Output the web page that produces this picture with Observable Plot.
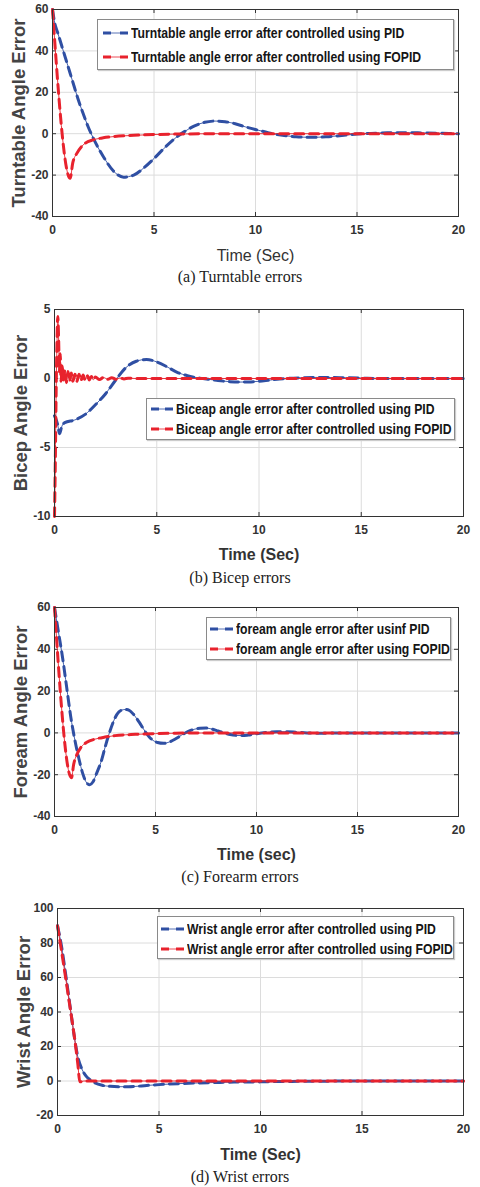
<!DOCTYPE html>
<html>
<head>
<meta charset="utf-8">
<script src="https://cdn.jsdelivr.net/npm/d3@7"></script>
<script src="https://cdn.jsdelivr.net/npm/@observablehq/plot@0.6"></script>
<style>
  body { margin: 0; background: #fff; }
  #wrap { position: relative; width: 480px; height: 1187px; overflow: hidden; background: #fff; }
  .panel { position: absolute; left: 0; }
  .caption { position: absolute; left: 0; width: 480px; text-align: center; font-family: "Liberation Serif", "Times New Roman", serif; font-size: 16px; color: #222; height: 20px; line-height: 20px; }
  .legend { position: absolute; background: #fff; border: 1px solid #8a8a8a; box-shadow: 1px 1px 1px #ccc; box-sizing: border-box; }
  .legrow { position: absolute; left: 0; display: flex; align-items: center; height: 18px; }
  .legrow span { display: inline-block; font-family: "Liberation Sans", Arial, sans-serif; font-weight: bold; font-size: 14px; color: #151515; white-space: nowrap; transform: scaleX(0.87); transform-origin: left center; }
</style>
</head>
<body>
<div id="wrap"></div>
<script>
// ---------- shared ----------
const xTicks = [0, 5, 10, 15, 20];
const pidColor = "#2f4fa3";
const fopidColor = "#e8222d";

// ---------- (a) Turntable ----------
const turntableYTicks = [-40, -20, 0, 20, 40, 60];
const turntablePidT = [0, 0.12, 0.25, 0.5, 0.75, 1, 1.25, 1.5, 1.75, 2, 2.5, 3, 3.5, 4, 4.5, 5, 5.5, 6, 6.5, 7, 7.5, 8, 8.5, 9, 9.5, 10, 10.5, 11, 11.5, 12, 12.5, 13, 13.5, 14, 14.5, 15, 15.5, 16, 16.5, 17, 18, 19, 20];
const turntablePid  = [60, 53, 49, 41, 33, 25, 17, 10, 3.5, -2, -11, -18, -21, -20, -16.5, -12, -7, -2.5, 1, 3.8, 5.5, 6.1, 5.8, 4.8, 3.3, 2, 0.8, -0.3, -1, -1.5, -1.7, -1.7, -1.5, -1.1, -0.6, -0.2, 0.1, 0.3, 0.45, 0.5, 0.4, 0.2, 0];
const turntableFopidT = [0, 0.87, 1.0, 1.2, 1.5, 2, 2.5, 3, 4, 5, 6, 8, 20];
const turntableFopid  = [60, -21.5, -14, -9.5, -5.5, -3, -2, -1.4, -0.8, -0.4, -0.2, 0, 0];

// ---------- (b) Bicep ----------
const bicepYTicks = [-10, -5, 0, 5];
const bicepPidT = [0, 0.15, 0.25, 0.35, 0.5, 1, 1.5, 2, 2.5, 3, 3.5, 4, 4.5, 5, 5.5, 6, 6.5, 7, 7.5, 8, 8.5, 9, 9.5, 10, 10.5, 11, 12, 13, 14, 15, 16, 20];
const bicepPid  = [-2.7, -3.3, -4, -3.5, -3.2, -3.0, -2.6, -1.9, -1.1, -0.1, 0.8, 1.25, 1.38, 1.2, 0.85, 0.45, 0.2, 0.05, -0.05, -0.15, -0.22, -0.26, -0.25, -0.2, -0.12, -0.04, 0.05, 0.08, 0.06, 0.03, 0, 0];
const bicepFopidT = [0, 0.04, 0.08, 0.12, 0.16, 0.2, 0.24, 0.28, 0.32, 0.38, 0.44, 0.5, 0.58, 0.66, 0.74, 0.82, 0.9, 1.0, 1.1, 1.2, 1.3, 1.4, 1.5, 1.6, 1.7, 1.8, 1.9, 2.0, 2.2, 2.4, 2.6, 2.8, 3.0, 3.2, 3.4, 3.6, 4.0, 20];
const bicepFopid  = [-10, -6, -1, 2.5, 4.5, 3, 0.5, 1.8, -0.2, 0.9, -0.1, 0.6, -0.3, 0.5, -0.2, 0.4, -0.2, 0.3, -0.2, 0.3, -0.15, 0.25, -0.1, 0.2, -0.1, 0.15, -0.1, 0.1, -0.08, 0.08, -0.06, 0.06, -0.05, 0.04, -0.03, 0.02, 0, 0];

// ---------- (c) Forearm ----------
const forearmYTicks = [-40, -20, 0, 20, 40, 60];
const forearmPidT = [0, 0.2, 0.4, 0.6, 0.8, 1.0, 1.2, 1.4, 1.6, 1.75, 1.9, 2.1, 2.3, 2.5, 2.7, 2.9, 3.1, 3.3, 3.5, 3.7, 3.9, 4.2, 4.5, 4.8, 5.1, 5.4, 5.7, 6.0, 6.3, 6.6, 6.9, 7.2, 7.5, 7.8, 8.1, 8.4, 8.7, 9.0, 9.3, 9.6, 10, 10.5, 11, 11.5, 12, 12.5, 13, 14, 20];
const forearmPid  = [60, 48, 36, 22, 8, -3, -12, -19.5, -24, -24.8, -23.5, -19, -14, -7, -0.5, 5, 9, 10.8, 11.2, 10.8, 9, 5, 0.5, -3, -4.6, -5, -4.3, -2.8, -1, 0.6, 1.7, 2.2, 2.3, 1.8, 0.9, 0, -0.8, -1.2, -1.3, -1, -0.4, 0.2, 0.6, 0.6, 0.3, 0, -0.2, 0, 0];
const forearmFopidT = [0, 0.84, 0.95, 1.1, 1.3, 1.6, 2, 2.5, 3, 4, 5, 6, 8, 20];
const forearmFopid  = [60, -21.5, -15, -10.5, -7, -4.5, -3, -2, -1.3, -0.7, -0.35, -0.15, 0, 0];

// ---------- (d) Wrist ----------
const wristYTicks = [-20, 0, 20, 40, 60, 80, 100];
const wristPidT = [0, 0.2, 0.4, 0.6, 0.8, 1.0, 1.2, 1.4, 1.6, 1.8, 2.2, 2.6, 3, 3.5, 4, 4.5, 5, 6, 7, 8, 9, 10, 11, 12, 13, 15, 20];
const wristPid  = [90, 78, 62, 45, 28, 14, 7, 3, 0.8, -0.8, -2.5, -3.1, -3.3, -3.3, -3, -2.5, -2.1, -1.5, -1.1, -0.8, -0.6, -0.5, -0.3, -0.2, -0.1, 0, 0];
const wristFopidT = [0, 0.5, 1.0, 1.1, 1.3, 20];
const wristFopid  = [90, 52, 10, -0.5, 0, 0];

// ---------- panel specs ----------
const panels = [
  { top: 0, mt: 9, ml: 52, mr: 22, innerH: 207, yTicks: turntableYTicks, yLabel: "Turntable Angle Error", xLabel: "Time (Sec)", xBold: false, xdy: 39,
    pidT: turntablePidT, pid: turntablePid, fopT: turntableFopidT, fop: turntableFopid, caption: "(a) Turntable errors", capY: 277,
    legend: { x: 97, y: 19, w: 357, h: 51, rows: [33, 57], sx: 103, tx: 131,
      items: ["Turntable angle error after controlled using PID", "Turntable angle error after controlled using FOPID"] } },
  { top: 299, mt: 10, ml: 54, mr: 17, innerH: 207, yTicks: bicepYTicks, yLabel: "Bicep Angle Error", xLabel: "Time (Sec)", xBold: true, xdy: 38,
    pidT: bicepPidT, pid: bicepPid, fopT: bicepFopidT, fop: bicepFopid, caption: "(b) Bicep errors", capY: 578,
    legend: { x: 146, y: 398, w: 309, h: 42, rows: [409, 429], sx: 151, tx: 176,
      items: ["Biceap angle error after controlled using PID", "Biceap angle error after controlled using FOPID"] } },
  { top: 597, mt: 10, ml: 54, mr: 22, innerH: 209, yTicks: forearmYTicks, yLabel: "Foream Angle Error", xLabel: "Time (sec)", xBold: true, xdy: 38,
    pidT: forearmPidT, pid: forearmPid, fopT: forearmFopidT, fop: forearmFopid, caption: "(c) Forearm errors", capY: 877,
    legend: { x: 206, y: 617, w: 245, h: 43, rows: [629, 649], sx: 210, tx: 236,
      items: ["foream angle error after usinf PID", "foream angle error after using FOPID"] } },
  { top: 898, mt: 10, ml: 57, mr: 17, innerH: 207, yTicks: wristYTicks, yLabel: "Wrist Angle Error", xLabel: "Time (Sec)", xBold: true, xdy: 39,
    pidT: wristPidT, pid: wristPid, fopT: wristFopidT, fop: wristFopid, caption: "(d) Wrist errors", capY: 1177,
    legend: { x: 157, y: 916, w: 297, h: 43, rows: [929, 949], sx: 161, tx: 187,
      items: ["Wrist angle error after controlled using PID", "Wrist angle error after controlled using FOPID"] } }
];

const wrap = document.getElementById("wrap");

function series(ts, vs) { return ts.map((t, i) => ({ t, v: vs[i] })); }

for (const p of panels) {
  const mb = 50;
  const height = p.mt + p.innerH + mb;
  const innerW = 480 - p.ml - p.mr;
  const yDomain = [p.yTicks[0], p.yTicks[p.yTicks.length - 1]];
  const pidData = series(p.pidT, p.pid);
  const fopData = series(p.fopT, p.fop);
  const fmt = d => String(d);
  const chart = Plot.plot({
    width: 480,
    height,
    marginTop: p.mt,
    marginBottom: mb,
    marginLeft: p.ml,
    marginRight: p.mr,
    style: { fontFamily: "'Liberation Sans', Arial, sans-serif", background: "#fff", overflow: "visible" },
    x: { domain: [0, 20] },
    y: { domain: yDomain },
    marks: [
      Plot.gridX(xTicks, { stroke: "#dcdcdc", strokeOpacity: 1 }),
      Plot.gridY(p.yTicks, { stroke: "#dcdcdc", strokeOpacity: 1 }),
      Plot.axisX(xTicks, { anchor: "bottom", tickSize: 0, tickPadding: 9, tickFormat: fmt, fontSize: 12, fontWeight: "bold", fill: "#333", label: null }),
      Plot.axisY(p.yTicks, { anchor: "left", tickSize: 0, tickPadding: 4, tickFormat: fmt, fontSize: 12, fontWeight: "bold", fill: "#333", label: null }),
      Plot.tickX(xTicks, { x: d => d, stroke: "#333", insetTop: p.innerH - 4 }),
      Plot.tickX(xTicks, { x: d => d, stroke: "#333", insetBottom: p.innerH - 4 }),
      Plot.tickY(p.yTicks, { y: d => d, stroke: "#333", insetLeft: innerW - 4 }),
      Plot.tickY(p.yTicks, { y: d => d, stroke: "#333", insetRight: innerW - 4 }),
      Plot.line(pidData, { x: "t", y: "v", stroke: pidColor, strokeWidth: 0.9, curve: "monotone-x" }),
      Plot.line(pidData, { x: "t", y: "v", stroke: pidColor, strokeWidth: 3, strokeDasharray: "9,6", curve: "monotone-x" }),
      Plot.line(fopData, { x: "t", y: "v", stroke: fopidColor, strokeWidth: 0.9, curve: "monotone-x" }),
      Plot.line(fopData, { x: "t", y: "v", stroke: fopidColor, strokeWidth: 3, strokeDasharray: "9,6", curve: "monotone-x" }),
      Plot.frame({ stroke: "#333", strokeWidth: 1 }),
      Plot.text([p.yLabel], { frameAnchor: "left", textAnchor: "middle", lineAnchor: "middle", rotate: -90, dx: -33, fontSize: 18.5, fontWeight: "bold", fill: "#444" }),
      Plot.text([p.xLabel], { frameAnchor: "bottom", textAnchor: "middle", lineAnchor: "middle", dy: p.xdy, fontSize: 16, fontWeight: p.xBold ? "bold" : "normal", fill: "#333" })
    ]
  });
  const holder = document.createElement("div");
  holder.className = "panel";
  holder.style.top = p.top + "px";
  holder.appendChild(chart);
  wrap.appendChild(holder);

  // legend
  const L = p.legend;
  const box = document.createElement("div");
  box.className = "legend";
  Object.assign(box.style, { left: L.x + "px", top: L.y + "px", width: L.w + "px", height: L.h + "px" });
  wrap.appendChild(box);
  const colors = [pidColor, fopidColor];
  L.items.forEach((label, i) => {
    const row = document.createElement("div");
    row.className = "legrow";
    Object.assign(row.style, { left: L.sx + "px", top: (L.rows[i] - 9) + "px" });
    const sw = L.tx - L.sx - 3;
    row.innerHTML = `<svg width="${sw}" height="18" style="margin-right:3px"><line x1="0" x2="${sw}" y1="9" y2="9" stroke="${colors[i]}" stroke-width="0.8"/><line x1="0" x2="${sw}" y1="9" y2="9" stroke="${colors[i]}" stroke-width="3" stroke-dasharray="8,${sw - 16}"/></svg><span>${label}</span>`;
    wrap.appendChild(row);
  });

  // caption
  const cap = document.createElement("div");
  cap.className = "caption";
  cap.style.top = (p.capY - 10) + "px";
  cap.textContent = p.caption;
  wrap.appendChild(cap);
}
</script>
</body>
</html>
